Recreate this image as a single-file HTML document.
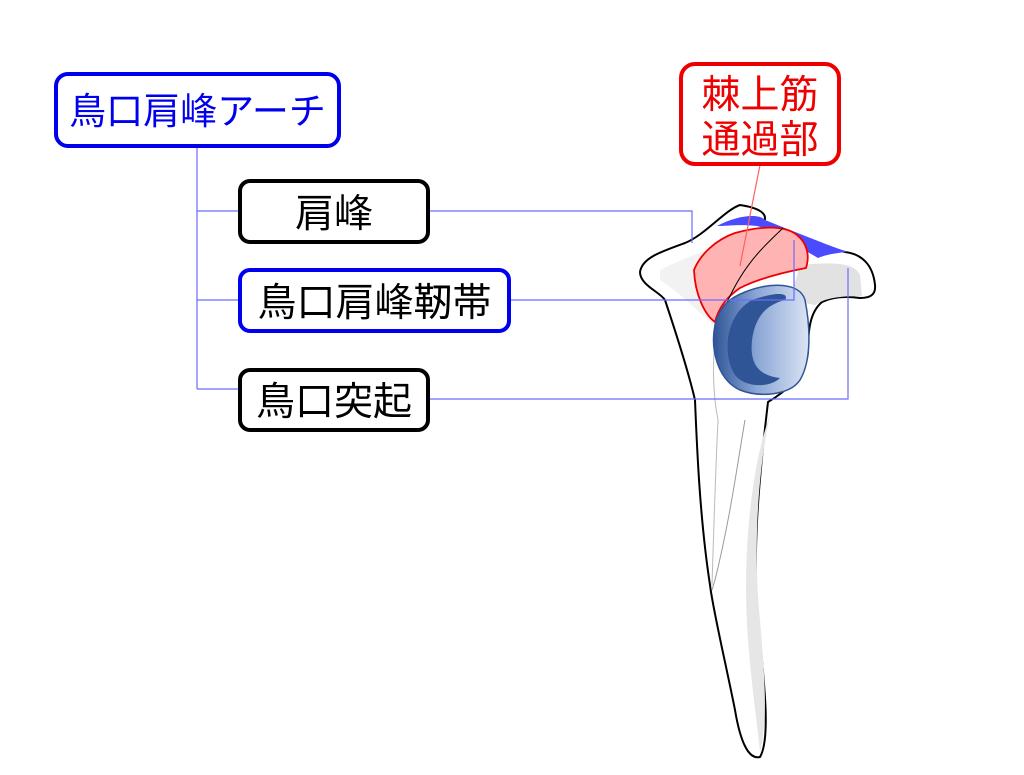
<!DOCTYPE html>
<html><head><meta charset="utf-8"><style>
html,body{margin:0;padding:0;background:#fff}
svg{display:block}
text{font-family:"Liberation Sans","Noto Sans CJK JP",sans-serif}
</style></head><body>
<svg width="1024" height="775" viewBox="0 0 1024 775" xmlns="http://www.w3.org/2000/svg">
<defs>
<linearGradient id="gl" x1="0" x2="1" y1="0" y2="0">
<stop offset="0" stop-color="#2f5597"/><stop offset="0.45" stop-color="#8aa6d6"/><stop offset="1" stop-color="#dbe4f3"/>
</linearGradient>
</defs>
<path d="M740,205 C760,208 768,214 764,222 C790,232 820,245 845,252 C862,254 873,265 875,285 C876,295 870,298 860,298 C845,296 832,297 822,302 C810,312 808,330 808,352 C806,375 785,392 768,402 C760,470 750,560 760,640 C765,690 770,740 760,757 C748,760 740,740 735,710 C725,660 713,610 710,585 C700,520 697,450 695,400 C688,370 675,330 665,300 C660,292 640,285 640,272 C642,258 660,252 685,243 C705,235 725,210 740,205 Z" fill="#fff" stroke="#000" stroke-width="2"/>
<path d="M660,270 C690,255 720,245 740,240 L720,330 C705,320 690,300 660,280 Z" fill="#f2f2f2"/>
<path d="M800,265 C830,262 855,262 860,275 L862,296 C840,296 825,298 815,305 L790,300 Z" fill="#e2e2e2"/>
<path d="M770,415 C750,470 742,560 748,640 C752,690 758,730 760,752 C768,720 765,680 760,620 C752,540 760,460 770,415 Z" fill="#e6e6e6"/>
<path d="M745,420 C738,460 730,520 715,580 L712,590" fill="none" stroke="#999" stroke-width="1"/>
<path d="M718,320 C712,350 712,390 718,420 C716,460 714,520 712,585" fill="none" stroke="#bbb" stroke-width="1"/>
<path d="M717,226 C740,214 760,214 765,220 C790,230 820,242 847,252 C835,253 825,255 818,258 C800,248 780,232 757,226 C740,224 728,226 717,226 Z" fill="#4a4aff"/>
<path d="M694,270 C700,255 715,240 735,233 C760,226 785,225 797,235 C807,243 810,255 806,268 C785,272 760,278 740,288 C725,298 718,310 715,322 C705,315 695,295 694,270 Z" fill="#ffb3b3" stroke="#e00" stroke-width="1.8"/>
<path d="M783,228 C760,250 738,270 720,320" fill="none" stroke="#000" stroke-width="1"/>
<path d="M745,292 C770,282 800,282 805,300 C810,325 812,360 800,380 C790,395 760,398 740,390 C718,380 710,350 715,325 C720,305 730,298 745,292 Z" fill="url(#gl)" stroke="#2f5597" stroke-width="1.5"/>
<path d="M752,300 C775,292 790,292 785,300 C765,305 755,318 752,340 C750,360 755,375 780,378 C770,388 745,388 735,375 C722,355 725,315 752,300 Z" fill="#2f5597"/>
<g stroke="#6b6bff" stroke-width="1.2" fill="none">
<path d="M197,147 V389"/>
<path d="M197,211 H239 M197,300 H239 M197,389 H239"/>
<path d="M429,211 H692 V243"/>
<path d="M510,300 H794 V240"/>
<path d="M429,399 H848 V268"/>
</g>
<path d="M760,165 L740,266" stroke="#ff6060" stroke-width="1.2"/>
<rect x="56" y="74" width="283" height="72" rx="12" fill="#fff" stroke="#0000ee" stroke-width="4"/>
<text x="197.5" y="124" font-size="37" fill="#0000ee" text-anchor="middle">鳥口肩峰アーチ</text>
<rect x="240" y="181" width="188" height="61" rx="10" fill="#fff" stroke="#000" stroke-width="4"/>
<text x="334" y="227" font-size="39" fill="#000" text-anchor="middle">肩峰</text>
<rect x="240" y="270" width="269" height="61" rx="10" fill="#fff" stroke="#0000ee" stroke-width="4"/>
<text x="374.5" y="316" font-size="39" fill="#000" text-anchor="middle">鳥口肩峰靭帯</text>
<rect x="240" y="370" width="188" height="60" rx="10" fill="#fff" stroke="#000" stroke-width="4"/>
<text x="334" y="415" font-size="39" fill="#000" text-anchor="middle">鳥口突起</text>
<rect x="681" y="64" width="158" height="100" rx="14" fill="#fff" stroke="#ee0000" stroke-width="4"/>
<text x="760" y="108" font-size="39" fill="#ee0000" text-anchor="middle">棘上筋</text>
<text x="760" y="153" font-size="39" fill="#ee0000" text-anchor="middle">通過部</text>
</svg>
</body></html>
